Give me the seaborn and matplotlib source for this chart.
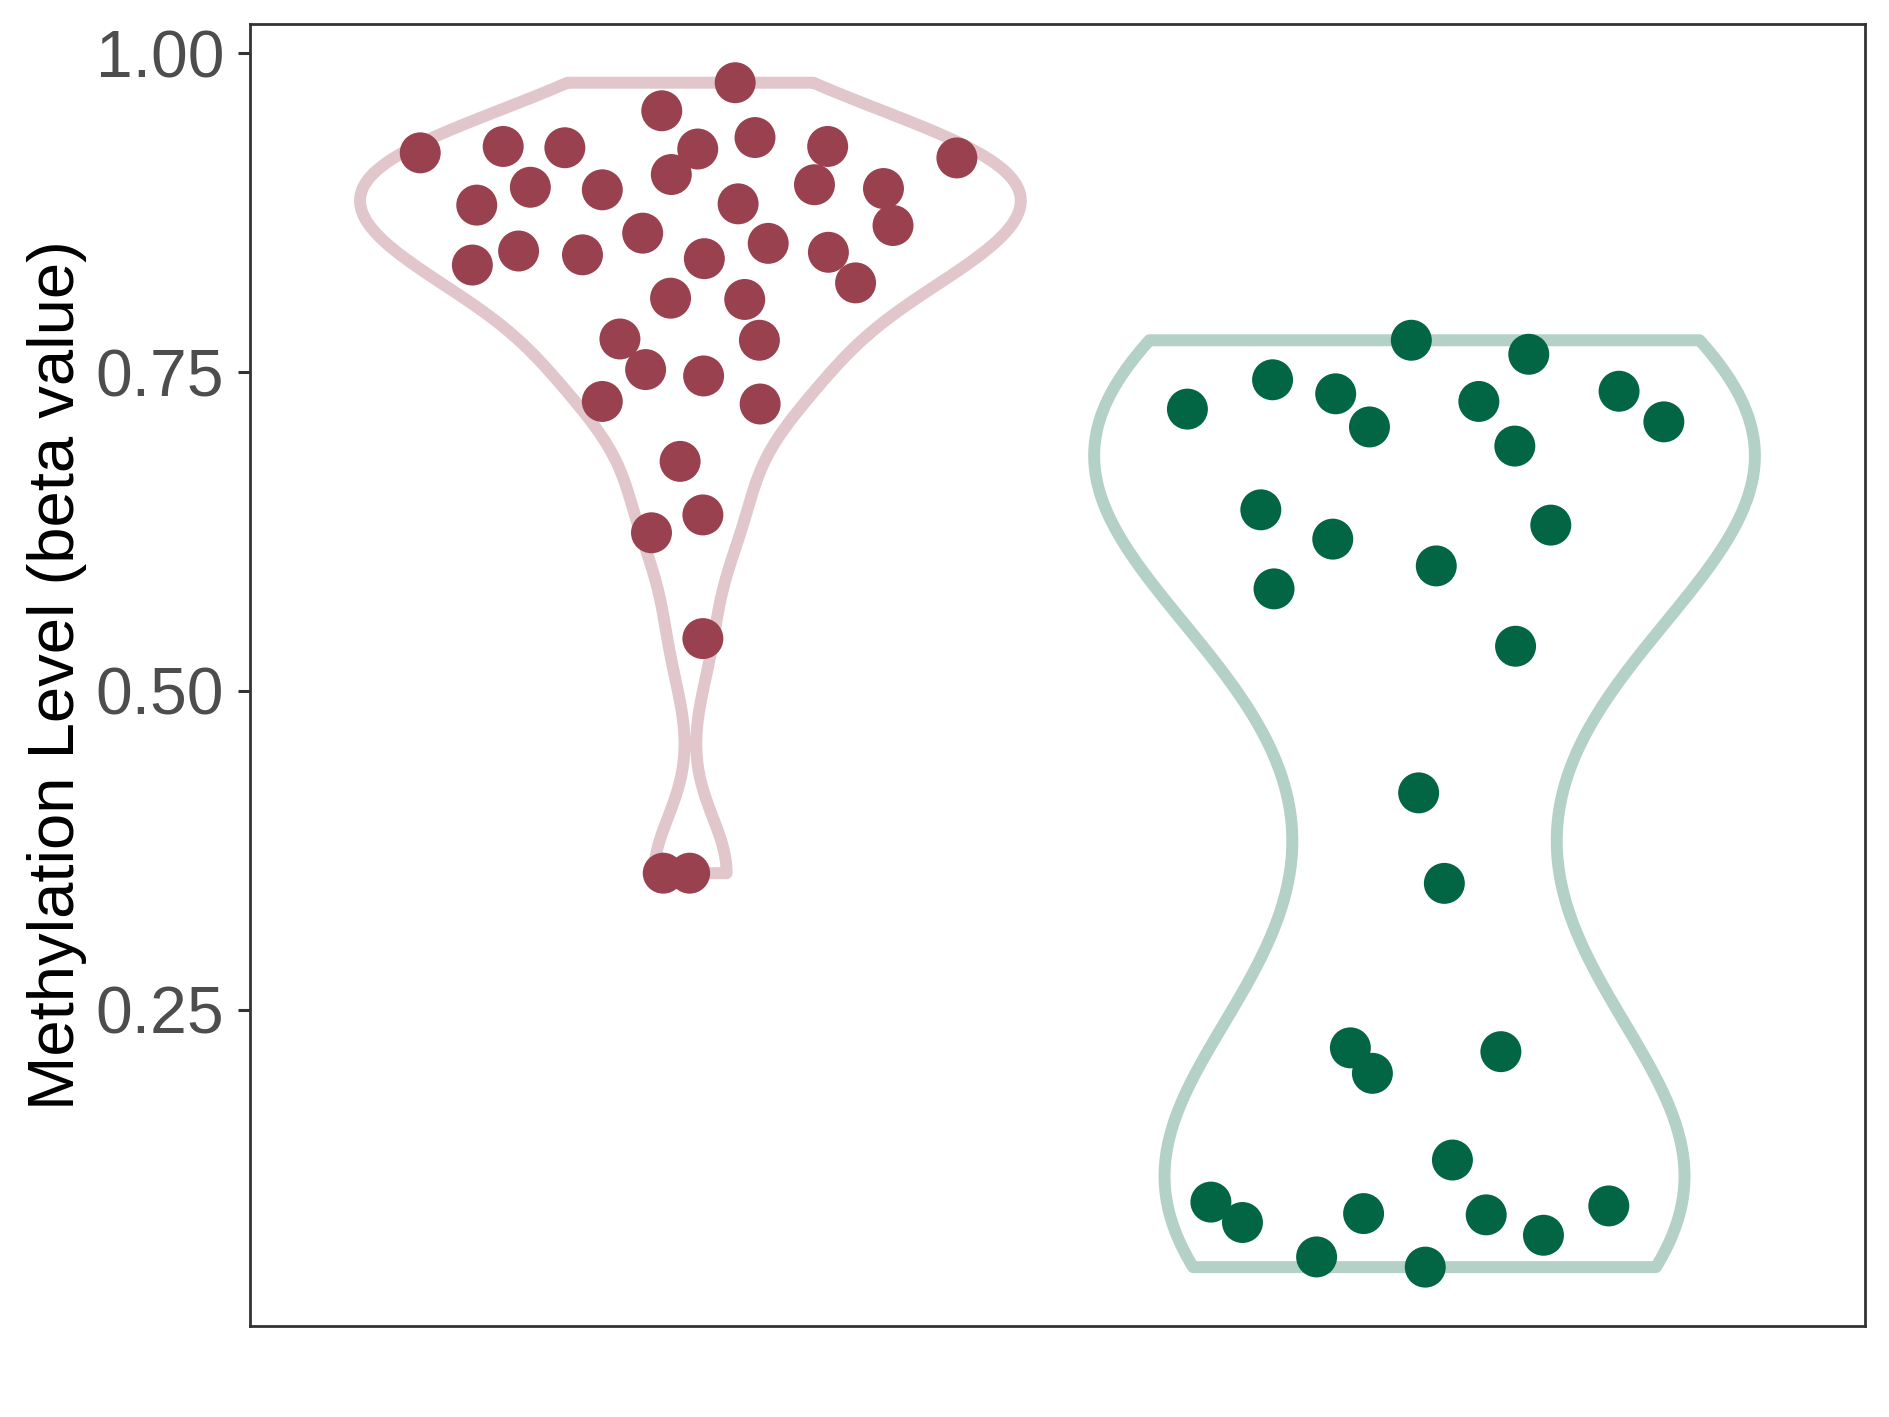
import numpy as np
import pandas as pd
import matplotlib
matplotlib.use("Agg")
import matplotlib.pyplot as plt
import seaborn as sns

# group labels (not shown on the chart) and colours
groups = ["Normal", "Tumor"]
point_colors = ["#9A4150", "#026645"]
violin_colors = ["#E1C6CB", "#B3D1C7"]

# beta values
normal_values = [0.922, 0.927, 0.926, 0.955, 0.977, 0.934, 0.925, 0.905, 0.927, 0.918,
                 0.894, 0.897, 0.882, 0.893, 0.895, 0.881, 0.865, 0.859, 0.851, 0.844,
                 0.820, 0.834, 0.845, 0.842, 0.839, 0.808, 0.807, 0.776, 0.775, 0.752,
                 0.747, 0.727, 0.725, 0.680, 0.638, 0.624, 0.541, 0.357, 0.357]
normal_jitter = [-0.368, -0.255, -0.171, -0.039, 0.061, 0.088, 0.010, -0.026, 0.187, 0.363,
                 0.263, 0.169, 0.065, -0.120, -0.218, -0.291, 0.276, -0.065, 0.106, 0.188,
                 0.225, -0.297, -0.234, -0.147, 0.019, -0.027, 0.074, -0.096, 0.094, -0.061,
                 0.018, -0.120, 0.095, -0.014, 0.017, -0.053, 0.017, -0.037, -0.001]

tumor_values = [0.775, 0.764, 0.721, 0.744, 0.733, 0.707, 0.727, 0.692, 0.735, 0.711,
                0.642, 0.619, 0.630, 0.598, 0.580, 0.535, 0.420, 0.349, 0.220, 0.200,
                0.217, 0.132, 0.099, 0.083, 0.090, 0.089, 0.073, 0.096, 0.056, 0.048]
tumor_jitter = [-0.018, 0.142, -0.323, -0.207, -0.121, -0.075, 0.074, 0.123, 0.265, 0.326,
                -0.223, -0.125, 0.172, 0.016, -0.205, 0.124, -0.008, 0.027, -0.101, -0.071,
                0.104, 0.038, -0.291, -0.248, -0.083, 0.084, 0.162, 0.251, -0.147, 0.001]


def nrd0(kde):
    # R's default bandwidth, as a factor of the sample sd
    d = np.asarray(kde.dataset).ravel()
    sd = d.std(ddof=1)
    iqr = np.subtract(*np.percentile(d, [75, 25]))
    return 0.9 * min(sd, iqr / 1.34) * len(d) ** -0.2 / sd


df = pd.DataFrame({
    "group": [groups[0]] * len(normal_values) + [groups[1]] * len(tumor_values),
    "value": normal_values + tumor_values,
    "jitter": normal_jitter + tumor_jitter,
})
df["pos"] = df["group"].map({g: i for i, g in enumerate(groups)}) + df["jitter"]

sns.set_theme(style="white")
plt.rcParams["font.family"] = ["Liberation Sans", "DejaVu Sans"]

fig = plt.figure(figsize=(18.89, 14.17), dpi=100)
ax = fig.add_axes([0.1323, 0.0642, 0.855, 0.9189])

sns.violinplot(data=df, x="group", y="value", hue="group", order=groups,
               hue_order=groups, palette=violin_colors, fill=False, inner=None,
               cut=0, density_norm="width", width=0.9, gridsize=512,
               bw_method=nrd0, linewidth=8.6, legend=False, ax=ax)
for coll, col in zip(ax.collections, violin_colors):
    coll.set_facecolor("none")
    coll.set_edgecolor(col)
    coll.set_joinstyle("round")

sns.scatterplot(data=df, x="pos", y="value", hue="group", hue_order=groups,
                palette=point_colors, s=870, linewidth=0, alpha=1,
                legend=False, ax=ax, zorder=3)

ax.set_xlim(-0.6, 1.6)
ax.set_ylim(0.0018, 1.0231)
ax.set_yticks([0.25, 0.50, 0.75, 1.00])
ax.set_yticklabels(["0.25", "0.50", "0.75", "1.00"])
ax.set_xticks([])
ax.set_xlabel("")
ax.set_ylabel("Methylation Level (beta value)", fontsize=47, color="black")
ax.yaxis.set_label_coords(-0.101, 0.5)

ax.tick_params(axis="y", length=8.6, width=2.2, color="#333333", pad=10,
               labelsize=47.5, labelcolor="#4D4D4D", left=True)
for sp in ax.spines.values():
    sp.set_visible(True)
    sp.set_color("#333333")
    sp.set_linewidth(2)

fig.savefig("out.png", dpi=100)
